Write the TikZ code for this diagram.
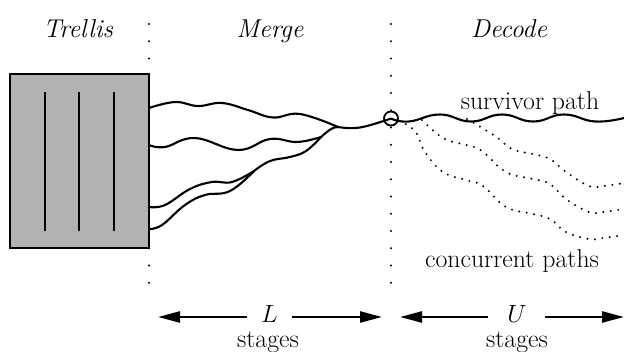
\documentclass[tikz,border=0pt]{standalone}
\usepackage{fontspec}
\usetikzlibrary{arrows.meta}
\begin{document}
\begin{tikzpicture}[x=1pt,y=-1pt,
  txt/.style={font=\fontsize{25.8}{30}\selectfont, inner sep=0pt, anchor=base},
  ttl/.style={font=\fontsize{25.8}{30}\selectfont\itshape, inner sep=0pt, anchor=base},
  sep/.style={line width=2.2pt, dash pattern=on 0pt off 17.25pt, line cap=round},
  wire/.style={line width=2.1pt},
  cdots/.style={line width=2.2pt, dash pattern=on 0pt off 7.5pt, line cap=round},
  arr/.style={line width=2.4pt, -{Triangle[length=22pt,width=11pt]}}
]
\useasboundingbox (0,0) rectangle (624,351);

% separators
\coordinate (sepLt) at (149,24);
\coordinate (sepLb) at (149,300);
\coordinate (sepRt) at (391,24);
\coordinate (sepRb) at (391,300);
\draw[sep] (sepLt) -- (sepLb);
\draw[sep] (sepRt) -- (sepRb);

% titles
\node[ttl] (tT) at (78,37) {Trellis};
\node[ttl] (tM) at (270,37) {Merge};
\node[ttl] (tD) at (509,37) {Decode};

% trellis box
\node[draw, line width=2pt, fill=black!30, minimum width=139pt, minimum height=174pt, inner sep=0pt] (box) at (79.5,161) {};
\draw[wire] (45,92) -- (45,231);
\draw[wire] (79,92) -- (79,231);
\draw[wire] (114,92) -- (114,231);

% circle
\node[draw, circle, line width=1.8pt, minimum size=14pt, inner sep=0pt] (cir) at (391,118.5) {};

% merge paths
\coordinate (s1) at (149,108);
\coordinate (s2) at (149,145);
\coordinate (s3) at (149,207);
\coordinate (s4) at (149,229);
\coordinate (j1) at (338,127);
\coordinate (j2) at (321,137);
\coordinate (j3) at (254,171);
\draw[wire] plot[smooth, tension=0.7] coordinates {(s1) (175,102) (198,106) (222,103) (248,110) (273,117.5) (300,114) (338,127)};
\draw[wire] plot[smooth, tension=0.7] coordinates {(s2) (165,147) (195,138) (238,150) (270,139) (297,142) (j2)};
\draw[wire] plot[smooth, tension=0.7] coordinates {(s3) (165,205) (190,189) (212,182) (232,182) (j3)};
\draw[wire] plot[smooth, tension=0.7] coordinates {(s4) (162,225) (185,205) (205,195) (230,191) (j3)};
\draw[wire] plot[smooth, tension=0.7] coordinates {(j3) (270,161) (290,157) (306,151) (j2)};
\draw[wire] (j2) .. controls (328,131) and (332,127) .. (j1);
\draw[wire] plot[smooth, tension=0.7] coordinates {(j1) (360,127.5) (cir.center)};

% survivor path
\coordinate (send) at (624,118);
\draw[wire] plot[smooth, tension=0.8] coordinates {(cir.center) (409,121.5) (440,114.5) (471,121.5) (502,114.5) (533,121.5) (564,114.5) (595,121.5) (send)};
\node[txt] (sp) at (530,109) {survivor path};

% concurrent paths
\coordinate (cA) at (467,119);
\coordinate (cB) at (422,120);
\coordinate (cC) at (399,121);
\draw[cdots] plot[smooth, tension=0.7] coordinates {(cA) (495,136) (512,149) (533,154) (550,159) (566,172) (589,186) (603,186) (624,183)};
\draw[cdots] plot[smooth, tension=0.7] coordinates {(cB) (443,138) (466,145) (482,151) (506,172) (533,179) (550,184) (566,199) (589,212) (603,212) (624,209)};
\draw[cdots] plot[smooth, tension=0.7] coordinates {(cC) (415,131) (425,152) (443,172) (466,180) (483,186) (506,207) (533,214) (550,219) (566,232) (589,239) (603,238) (624,235)};
\node[txt] (cp) at (512,267) {concurrent paths};

% L arrows
\node[txt] (L) at (269.5,322) {$L$};
\node[txt] (Ls) at (268,347) {stages};
\coordinate (La) at (247,317);
\coordinate (Lat) at (158,317);
\coordinate (Lb) at (292,317);
\coordinate (Lbt) at (382,317);
\draw[arr] (La) -- (Lat);
\draw[arr] (Lb) -- (Lbt);

% U arrows
\node[txt] (U) at (517,322) {$U$};
\node[txt] (Us) at (517,347) {stages};
\coordinate (Ua) at (488,317);
\coordinate (Uat) at (400,317);
\coordinate (Ub) at (545,317);
\coordinate (Ubt) at (624,317);
\draw[arr] (Ua) -- (Uat);
\draw[arr] (Ub) -- (Ubt);
\end{tikzpicture}
\end{document}
